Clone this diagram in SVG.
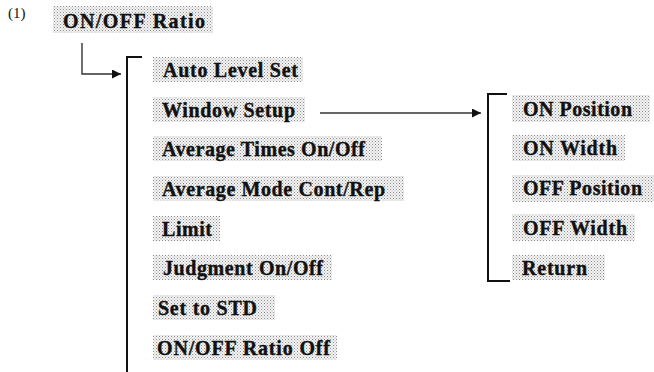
<svg xmlns="http://www.w3.org/2000/svg" width="654" height="372" viewBox="0 0 654 372">
  <defs>
    <pattern id="dots" width="3" height="3" patternUnits="userSpaceOnUse">
      <rect width="3" height="3" fill="#f4f4f4"/>
      <rect x="0" y="0" width="1" height="1" fill="#8a8a8a"/>
      <rect x="1.5" y="1.5" width="1" height="1" fill="#a8a8a8"/>
    </pattern>
    <marker id="arrow" markerUnits="userSpaceOnUse" markerWidth="10" markerHeight="10" refX="9" refY="4.5" orient="auto">
      <path d="M0,0 L9,4.5 L0,9 Z" fill="#111"/>
    </marker>
    <style>
      .box { fill: url(#dots); }
      .lbl { font-family: "Liberation Serif", "Times New Roman", serif; font-weight: bold; font-size: 20px; fill: #111; stroke: #111; stroke-width: 0.35; }
      .num { font-family: "Liberation Serif", "Times New Roman", serif; font-size: 15px; fill: #111; }
      .conn { fill: none; stroke: #333; stroke-width: 1.4; }
      .brk { fill: none; stroke: #111; stroke-width: 2; }
    </style>
  </defs>
  <rect width="654" height="372" fill="#fff"/>

  <text class="num" x="8" y="18">(1)</text>

  <g id="node-onoff-ratio">
    <rect class="box" x="53" y="6" width="160" height="27"/>
    <text class="lbl" x="63" y="28" textLength="142">ON/OFF Ratio</text>
  </g>

  <g id="connectors">
    <path class="conn" d="M82,43 V74 H121" marker-end="url(#arrow)"/>
    <path class="brk" d="M142,57 H127 V372"/>
    <path class="conn" d="M320,113 H481" marker-end="url(#arrow)"/>
    <path class="brk" d="M507,94 H488 V281 H510"/>
  </g>

  <g id="node-auto-level-set">
    <rect class="box" x="153" y="57" width="150" height="25"/>
    <text class="lbl" x="163" y="77" textLength="135">Auto Level Set</text>
  </g>
  <g id="node-window-setup">
    <rect class="box" x="153" y="97" width="152" height="25"/>
    <text class="lbl" x="162" y="117" textLength="133">Window Setup</text>
  </g>
  <g id="node-average-times">
    <rect class="box" x="153" y="136" width="229" height="25"/>
    <text class="lbl" x="162" y="156" textLength="203">Average Times On/Off</text>
  </g>
  <g id="node-average-mode">
    <rect class="box" x="153" y="176" width="251" height="25"/>
    <text class="lbl" x="162" y="196" textLength="223">Average Mode Cont/Rep</text>
  </g>
  <g id="node-limit">
    <rect class="box" x="153" y="216" width="67" height="25"/>
    <text class="lbl" x="162" y="236" textLength="50">Limit</text>
  </g>
  <g id="node-judgment">
    <rect class="box" x="153" y="255" width="179" height="25"/>
    <text class="lbl" x="163" y="275" textLength="160">Judgment On/Off</text>
  </g>
  <g id="node-set-to-std">
    <rect class="box" x="153" y="295" width="122" height="25"/>
    <text class="lbl" x="158" y="315" textLength="99">Set to STD</text>
  </g>
  <g id="node-ratio-off">
    <rect class="box" x="153" y="335" width="184" height="25"/>
    <text class="lbl" x="157" y="355" textLength="173">ON/OFF Ratio Off</text>
  </g>

  <g id="node-on-position">
    <rect class="box" x="512" y="95" width="138" height="27"/>
    <text class="lbl" x="523" y="116" textLength="109">ON Position</text>
  </g>
  <g id="node-on-width">
    <rect class="box" x="512" y="135" width="113" height="26"/>
    <text class="lbl" x="523" y="155" textLength="94">ON Width</text>
  </g>
  <g id="node-off-position">
    <rect class="box" x="512" y="175" width="142" height="27"/>
    <text class="lbl" x="523" y="195" textLength="119">OFF Position</text>
  </g>
  <g id="node-off-width">
    <rect class="box" x="512" y="214" width="123" height="27"/>
    <text class="lbl" x="523" y="235" textLength="104">OFF Width</text>
  </g>
  <g id="node-return">
    <rect class="box" x="512" y="255" width="93" height="25"/>
    <text class="lbl" x="522" y="275" textLength="65">Return</text>
  </g>
</svg>
